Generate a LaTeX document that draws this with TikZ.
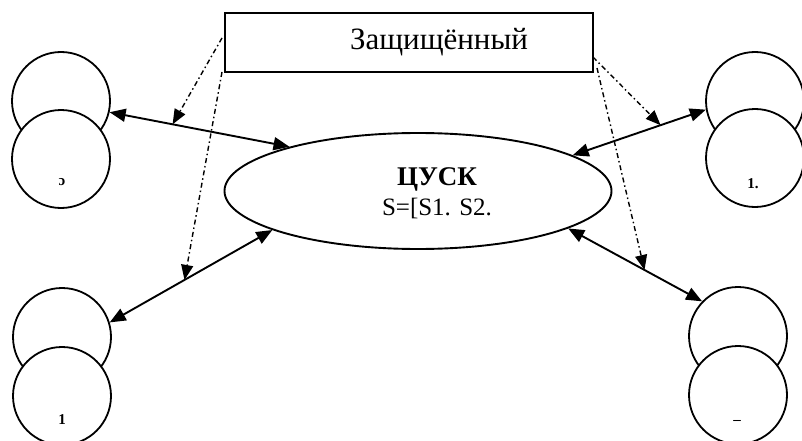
\documentclass[tikz,border=0pt]{standalone}
\usepackage{fontspec}
\setmainfont{Liberation Serif}
\usetikzlibrary{arrows.meta,shapes.geometric}
\begin{document}
\begin{tikzpicture}[x=1pt,y=-1pt,
  ring/.style={draw,circle,line width=1.8pt,minimum size=98pt,inner sep=0pt,fill=white},
  link/.style={line width=1.9pt,{Triangle[length=16pt,width=13pt]}-{Triangle[length=16pt,width=13pt]}},
  guard/.style={line width=1.4pt,dash pattern=on 5pt off 3pt on 1.5pt off 3pt,-{Triangle[length=15pt,width=12pt]}},
  tag/.style={font=\fontsize{15}{15}\selectfont\bfseries}]
\useasboundingbox (0,0) rectangle (802,441);
% box
\node[draw,line width=2pt,minimum width=368pt,minimum height=59pt,inner sep=0pt,
  font=\fontsize{31}{31}\selectfont] (box) at (409,42.5) {\hspace*{60pt}Защищённый};
% ellipse
\node[draw,ellipse,line width=1.9pt,minimum width=387pt,minimum height=116pt,inner sep=0pt] (e) at (418,191) {};
\node[align=center,inner sep=0pt] (etext) at (437,193)
  {{\fontsize{27}{30}\selectfont\bfseries ЦУСК}\\[6pt]{\fontsize{25}{28}\selectfont S=[S1. S2.}};
% circles
\node[ring] (tlA) at (61,101) {};
\node[ring] (tlB) at (61,159) {};
\node[ring] (trA) at (755,101) {};
\node[ring] (trB) at (755,158) {};
\node[ring] (blA) at (62,337) {};
\node[ring] (blB) at (62,396) {};
\node[ring] (brA) at (738,336) {};
\node[ring] (brB) at (738,395) {};
\node[tag] (tlT) at (62,182) {ɔ};
\node[tag] (trT) at (753,184) {1.};
\node[tag] (blT) at (62,420) {1};
\node[tag] (brT) at (737,422) {--};
% links
\draw[link] (tlA.-13) -- coordinate[pos=0.35] (p1) (e.161.8);
\draw[link] (e.13.9) -- coordinate[pos=0.66] (p3) (trA.190.6);
\draw[link] (blA.17) -- coordinate[pos=0.46] (p2) (e.195.7);
\draw[link] (e.346.4) -- coordinate[pos=0.57] (p4) (brA.136.5);
% guard lines
\coordinate (s1) at (222,38);
\coordinate (s2) at (222,72);
\coordinate (s3) at (593,57);
\coordinate (s4) at (597,68);
\draw[guard] (s1) -- (p1);
\draw[guard] (s2) -- (p2);
\draw[guard] (s3) -- (p3);
\draw[guard] (s4) -- (p4);
\end{tikzpicture}
\end{document}
